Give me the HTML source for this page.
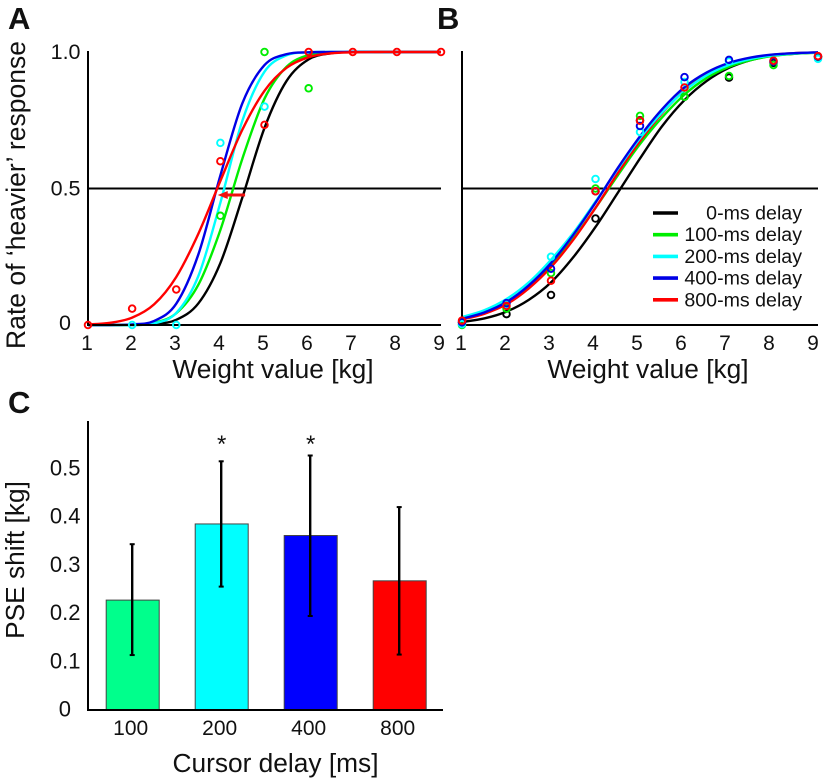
<!DOCTYPE html>
<html lang="en">
<head>
<meta charset="utf-8">
<title>Psychometric curves and PSE shift by cursor delay</title>
<style>
html,body{margin:0;padding:0;background:#fff;width:827px;height:783px;overflow:hidden}
svg{display:block}
text{font-family:"Liberation Sans",Arial,sans-serif;fill:#111}
</style>
</head>
<body>
<svg id="fig" xmlns="http://www.w3.org/2000/svg" width="827" height="783" viewBox="0 0 827 783">
  <text x="8" y="29" font-size="31" font-weight="bold">A</text>
  <text x="437" y="29" font-size="31" font-weight="bold">B</text>
  <text x="8" y="413" font-size="31" font-weight="bold">C</text>
  <text transform="translate(25,195) rotate(-90)" text-anchor="middle" font-size="26.5">Rate of ‘heavier’ response</text>
  <text x="273" y="378" text-anchor="middle" font-size="26.3">Weight value [kg]</text>
  <text x="648" y="378" text-anchor="middle" font-size="26.3">Weight value [kg]</text>
  <text transform="translate(24,560) rotate(-90)" text-anchor="middle" font-size="26.3">PSE shift [kg]</text>
  <text x="275.500" y="772" text-anchor="middle" font-size="26.3">Cursor delay [ms]</text>
</svg>
<script>
// ---------- shared categories ----------
var weights = [1, 2, 3, 4, 5, 6, 7, 8, 9];
var curveWeights = [1, 1.5, 2, 2.5, 3, 3.5, 4, 4.5, 5, 5.5, 6, 6.5, 7, 7.5, 8, 8.5, 9];
var yTickValues = [0, 0.5, 1];
var yTickLabels = ['0', '0.5', '1.0'];
var referenceLevel = 0.5;
var seriesNames = ['0-ms', '100-ms', '200-ms', '400-ms', '800-ms'];
var seriesColors = ['#000000', '#00ee00', '#00ffff', '#0000e6', '#ff0000'];

// ---------- panel A ----------
var curveA0 = [0, 0, 0, 0.003, 0.019, 0.079, 0.227, 0.468, 0.722, 0.894, 0.973, 0.995, 1, 1, 1, 1, 1];
var curveA100 = [0, 0, 0.001, 0.008, 0.043, 0.147, 0.348, 0.61, 0.829, 0.946, 0.989, 0.998, 1, 1, 1, 1, 1];
var curveA200 = [0, 0, 0, 0.006, 0.044, 0.179, 0.448, 0.749, 0.928, 0.988, 0.999, 1, 1, 1, 1, 1, 1];
var curveA400 = [0, 0, 0.002, 0.015, 0.078, 0.258, 0.548, 0.813, 0.952, 0.992, 0.999, 1, 1, 1, 1, 1, 1];
var curveA800 = [0.002, 0.008, 0.027, 0.076, 0.176, 0.334, 0.528, 0.716, 0.858, 0.942, 0.981, 0.995, 0.999, 1, 1, 1, 1];
var pointsA0 = [null, null, null, null, null, null, null, null, null];
var pointsA100 = [null, null, null, 0.4, 1, 0.867, null, null, null];
var pointsA200 = [null, 0, 0, 0.667, 0.8, null, null, null, null];
var pointsA400 = [null, null, null, null, null, null, null, null, null];
var pointsA800 = [0, 0.06, 0.13, 0.6, 0.733, 1, 1, 1, 1];
var shiftArrowFrom = 4.56;
var shiftArrowTo = 3.94;
var shiftArrowLevel = 0.476;

// ---------- panel B ----------
var curveB0 = [0.011, 0.024, 0.049, 0.092, 0.156, 0.248, 0.359, 0.484, 0.61, 0.729, 0.824, 0.894, 0.942, 0.971, 0.987, 0.994, 0.998];
var curveB100 = [0.025, 0.048, 0.085, 0.142, 0.22, 0.316, 0.429, 0.548, 0.663, 0.761, 0.844, 0.905, 0.946, 0.971, 0.986, 0.994, 0.997];
var curveB200 = [0.029, 0.054, 0.095, 0.156, 0.239, 0.337, 0.452, 0.571, 0.684, 0.779, 0.858, 0.915, 0.953, 0.975, 0.988, 0.995, 0.998];
var curveB400 = [0.023, 0.046, 0.084, 0.145, 0.227, 0.33, 0.448, 0.575, 0.691, 0.791, 0.871, 0.925, 0.96, 0.98, 0.991, 0.996, 0.999];
var curveB800 = [0.02, 0.041, 0.076, 0.134, 0.212, 0.312, 0.429, 0.556, 0.674, 0.776, 0.86, 0.918, 0.955, 0.978, 0.99, 0.996, 0.998];
var pointsB0 = [0.01, 0.04, 0.11, 0.39, 0.75, 0.836, 0.906, 0.96, 0.983];
var pointsB100 = [0, 0.06, 0.19, 0.5, 0.766, 0.836, 0.912, 0.952, 0.98];
var pointsB200 = [0.003, 0.075, 0.25, 0.535, 0.707, 0.89, 0.965, 0.965, 0.975];
var pointsB400 = [0.01, 0.08, 0.206, 0.49, 0.729, 0.908, 0.971, 0.965, 0.983];
var pointsB800 = [0.016, 0.07, 0.162, 0.49, 0.748, 0.87, null, 0.968, 0.985];

// ---------- legend ----------
var legendLabels = ['0-ms delay', '100-ms delay', '200-ms delay', '400-ms delay', '800-ms delay'];

// ---------- panel C ----------
var delayLabels = ['100', '200', '400', '800'];
var pseShift = [0.228, 0.386, 0.362, 0.268];
var pseUpper = [0.344, 0.516, 0.528, 0.421];
var pseLower = [0.114, 0.256, 0.195, 0.115];
var significant = [false, true, true, false];
var barColors = ['#00ff8c', '#00ffff', '#0000ff', '#ff0000'];
var cTickValues = [0, 0.1, 0.2, 0.3, 0.4, 0.5];
var cTickLabels = ['0', '0.1', '0.2', '0.3', '0.4', '0.5'];
var cAxisMax = 0.6;

var NS = 'http://www.w3.org/2000/svg';
var svg = document.getElementById('fig');

function make(tag, attrs, name, parent) {
  var el = document.createElementNS(NS, tag);
  for (var k in attrs) el.setAttribute(k, attrs[k]);
  
  
  (parent || svg).appendChild(el);
  return el;
}
function line(x1, y1, x2, y2, color, w, name, parent) {
  return make('line', {x1: x1, y1: y1, x2: x2, y2: y2, stroke: color, 'stroke-width': w}, name, parent);
}
function label(x, y, str, size, anchor, name, parent) {
  var t = make('text', {x: x, y: y, 'font-size': size, 'text-anchor': anchor}, name, parent);
  t.textContent = str;
  return t;
}
function splinePath(xs, ys) {
  var d = 'M' + xs[0].toFixed(2) + ' ' + ys[0].toFixed(2);
  for (var i = 0; i < xs.length - 1; i++) {
    var a = Math.max(i - 1, 0), b = Math.min(i + 2, xs.length - 1);
    var c1x = xs[i] + (xs[i + 1] - xs[a]) / 6, c1y = ys[i] + (ys[i + 1] - ys[a]) / 6;
    var c2x = xs[i + 1] - (xs[b] - xs[i]) / 6, c2y = ys[i + 1] - (ys[b] - ys[i]) / 6;
    d += 'C' + c1x.toFixed(2) + ' ' + c1y.toFixed(2) + ' ' + c2x.toFixed(2) + ' ' + c2y.toFixed(2) + ' ' + xs[i + 1].toFixed(2) + ' ' + ys[i + 1].toFixed(2);
  }
  return d;
}

function drawPsychometric(id, left, right, curves, points, curveOrder) {
  var g = make('g', {}, 'panel-' + id + '-chart');
  var sx = function (v) { return left + (v - 1) * (right - left) / 8; };
  var sy = function (v) { return 325 - v * 273; };

  line(left, sy(referenceLevel), right, sy(referenceLevel), '#000', 2, 'panel-' + id + '-reference-line', g);
  curveOrder.forEach(function (s) {
    make('path', {
      d: splinePath(curveWeights.map(sx), curves[s].map(sy)),
      fill: 'none', stroke: seriesColors[s], 'stroke-width': 2.4
    }, 'panel-' + id + '-curve-' + seriesNames[s], g);
  });
  line(left, 51, left, 326, '#000', 2, 'panel-' + id + '-y-axis', g);
  line(left - 1, sy(0), right, sy(0), '#000', 2, 'panel-' + id + '-x-axis', g);
  points.forEach(function (vals, s) {
    vals.forEach(function (v, i) {
      if (v === null) return;
      make('circle', {cx: sx(weights[i]), cy: sy(v), r: 3.3, fill: 'none', stroke: seriesColors[s], 'stroke-width': 1.9},
        'panel-' + id + '-point-' + seriesNames[s], g);
    });
  });
  weights.forEach(function (w) {
    label(sx(w) - 1 - (w - 1) * (id === 'b' ? 0.5 : 0.12), 350, String(w), 21, 'middle', 'panel-' + id + '-x-tick-' + w, g);
  });
  return {sx: sx, sy: sy, g: g};
}

var panelA = drawPsychometric('a', 88, 441,
  [curveA0, curveA100, curveA200, curveA400, curveA800],
  [pointsA0, pointsA100, pointsA200, pointsA400, pointsA800],
  [0, 1, 2, 3, 4]);
var panelB = drawPsychometric('b', 462, 818,
  [curveB0, curveB100, curveB200, curveB400, curveB800],
  [pointsB0, pointsB100, pointsB200, pointsB400, pointsB800],
  [0, 1, 4, 2, 3]);

yTickValues.forEach(function (v, i) {
  var yy = panelA.sy(v) + 7 - (v === 0 ? 2 : 0);
  label(v === 0 ? 71 : 80.5, yy, yTickLabels[i], 21.5, 'end', 'panel-a-y-tick-' + yTickLabels[i], panelA.g);
});

// shift arrow in panel A
(function () {
  var x1 = panelA.sx(shiftArrowFrom), x2 = panelA.sx(shiftArrowTo), y = panelA.sy(shiftArrowLevel);
  line(x1, y, x2 + 8, y, '#f01010', 3, 'pse-shift-arrow-shaft', panelA.g);
  make('polygon', {
    points: x2 + ',' + y + ' ' + (x2 + 10) + ',' + (y - 4) + ' ' + (x2 + 10) + ',' + (y + 4),
    fill: '#f01010'
  }, 'pse-shift-arrow-head', panelA.g);
})();

// legend
(function () {
  var g = make('g', {}, 'legend');
  legendLabels.forEach(function (txt, i) {
    var y = 213 + i * 21.7;
    line(653, y, 678, y, seriesColors[i], 3.6, 'legend-swatch-' + seriesNames[i], g);
    label(802, y + 6.5, txt, 19.6, 'end', 'legend-label-' + seriesNames[i], g);
  });
})();

// panel C
(function () {
  var g = make('g', {}, 'panel-c-chart');
  var sy = function (v) { return 710 - v * 482; };
  var band = 89;
  var sx = function (i) { return 132.7 + i * band; };
  var barW = 53;

  pseShift.forEach(function (v, i) {
    make('rect', {
      x: sx(i) - barW / 2, y: sy(v), width: barW, height: sy(0) - sy(v),
      fill: barColors[i], stroke: '#444', 'stroke-width': 1
    }, 'bar-' + delayLabels[i], g);
  });
  line(88, sy(cAxisMax) + 0.2, 88, 711, '#000', 2, 'panel-c-y-axis', g);
  line(87, sy(0), 443, sy(0), '#000', 2, 'panel-c-x-axis', g);
  pseShift.forEach(function (v, i) {
    var cx = sx(i) - 0.5;
    line(cx, sy(pseUpper[i]), cx, sy(pseLower[i]), '#000', 2.4, 'error-bar-' + delayLabels[i], g);
    line(cx - 2.5, sy(pseUpper[i]), cx + 2.5, sy(pseUpper[i]), '#000', 2, 'error-cap-upper-' + delayLabels[i], g);
    line(cx - 2.5, sy(pseLower[i]), cx + 2.5, sy(pseLower[i]), '#000', 2, 'error-cap-lower-' + delayLabels[i], g);
    label(cx - 1.5, 735, delayLabels[i], 21, 'middle', 'x-tick-' + delayLabels[i], g);
    if (significant[i]) {
      label(cx + 0.5, 452, '*', 24, 'middle', 'significance-star-' + delayLabels[i], g);
    }
  });
  cTickValues.forEach(function (v, i) {
    label(v === 0 ? 71 : 80.5, sy(v) + 6.5, cTickLabels[i], 22, 'end', 'panel-c-y-tick-' + cTickLabels[i], g);
  });
})();
</script>
</body>
</html>
